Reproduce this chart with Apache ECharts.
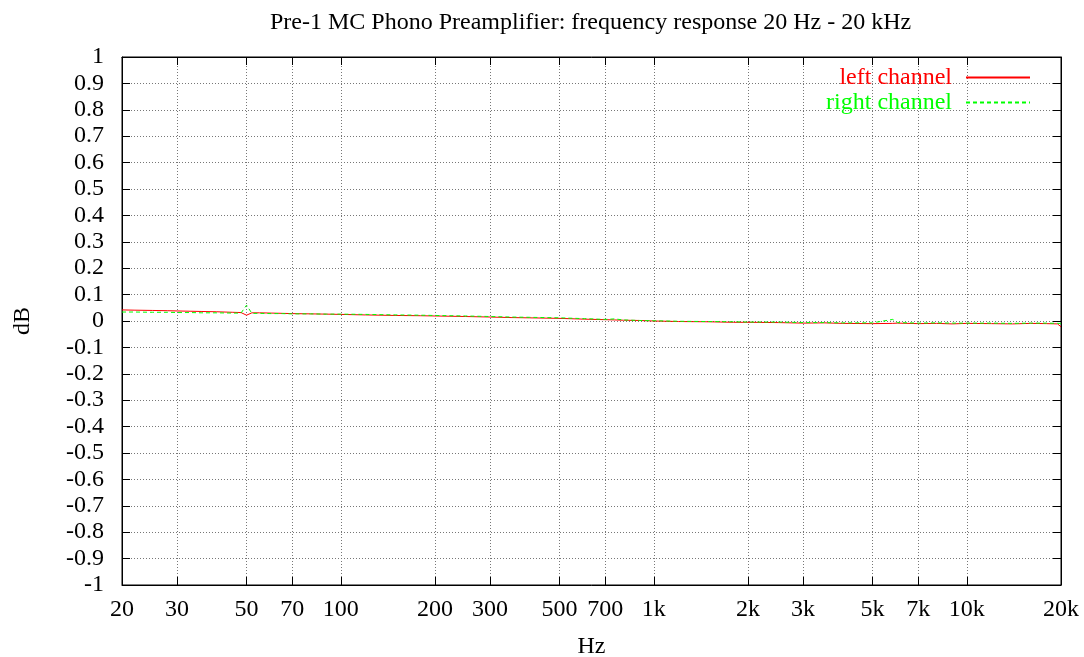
<!DOCTYPE html>
<html><head><meta charset="utf-8">
<script src="https://cdn.jsdelivr.net/npm/echarts@6/dist/echarts.min.js"></script>
<style>html,body{margin:0;padding:0;background:#fff}#c{width:1084px;height:657px}</style>
</head><body><div id="c"></div>
<script>
const freqs = [20,22,25,28,30,33,36,40,45,48,50,52,55,60,65,70,80,90,100,120,150,180,200,250,300,350,400,500,600,700,750,800,900,1000,1200,1500,1800,2000,2500,3000,3500,4000,5000,5800,6000,7000,8000,9000,10000,12000,14000,16000,18000,19500,20000];
const leftDb = [0.042,0.041,0.040,0.039,0.038,0.037,0.036,0.035,0.033,0.032,0.022,0.031,0.031,0.030,0.029,0.028,0.027,0.026,0.025,0.023,0.021,0.020,0.019,0.017,0.015,0.013,0.012,0.010,0.007,0.005,0.004,0.003,0.002,0.000,-0.002,-0.003,-0.005,-0.005,-0.006,-0.008,-0.007,-0.009,-0.010,-0.009,-0.008,-0.010,-0.009,-0.011,-0.009,-0.010,-0.011,-0.009,-0.010,-0.011,-0.022];
const rightDb = [0.034,0.034,0.033,0.033,0.032,0.032,0.031,0.031,0.030,0.030,0.060,0.029,0.029,0.028,0.028,0.027,0.027,0.026,0.026,0.025,0.023,0.022,0.021,0.019,0.017,0.015,0.014,0.012,0.009,0.006,0.008,0.004,0.002,0.001,-0.001,-0.002,-0.003,-0.004,-0.004,-0.006,-0.006,-0.007,-0.007,0.006,-0.006,-0.008,-0.007,-0.008,-0.008,-0.008,-0.009,-0.008,-0.008,-0.009,-0.009];
const xTicks = [20,30,50,70,100,200,300,500,700,1000,2000,3000,5000,7000,10000,20000];
const seriesNames = ['left channel','right channel'];
const titleText = 'Pre-1 MC Phono Preamplifier: frequency response 20 Hz - 20 kHz';

const FONT = 'Liberation Serif';
const FS = 24;
const gridLine = {show:true, lineStyle:{color:'#777', width:1, type:[1,2]}};
const fmtHz = v => v >= 1000 ? (v/1000) + 'k' : String(v);
const chart = echarts.init(document.getElementById('c'), null, {renderer:'canvas'});
chart.setOption({
  animation:false,
  backgroundColor:'#fff',
  title:{text:titleText, left:265, top:6, textStyle:{fontFamily:FONT, fontSize:FS, fontWeight:'normal', color:'#000'}},
  grid:{left:122, right:23, top:57, bottom:72, show:true, borderColor:'#000', borderWidth:1, containLabel:false, outerBoundsMode:'none'},
  legend:{
    orient:'vertical', right:48, top:60, align:'right', itemWidth:64, itemHeight:14, itemGap:0,
    itemStyle:{opacity:0},
    textStyle:{fontFamily:FONT, fontSize:FS, lineHeight:25, padding:[0,9,0,0]},
    data:[
      {name:seriesNames[0], textStyle:{color:'#ff0000'}},
      {name:seriesNames[1], textStyle:{color:'#00ff00'}}
    ]
  },
  xAxis:[{
    type:'log', logBase:10, min:20, max:20000,
    name:'Hz', nameLocation:'middle', nameGap:50,
    nameTextStyle:{fontFamily:FONT, fontSize:FS, color:'#000'},
    axisLine:{show:true, onZero:false, lineStyle:{color:'#000'}},
    axisTick:{show:true, inside:true, length:8, customValues:xTicks, lineStyle:{color:'#000'}},
    axisLabel:{customValues:xTicks, formatter:fmtHz, margin:13, fontFamily:FONT, fontSize:FS, color:'#000'},
    splitLine:gridLine, minorTick:{show:false}, minorSplitLine:{show:false}
  },{
    type:'log', logBase:10, min:20, max:20000, position:'top',
    axisLine:{show:true, onZero:false, lineStyle:{color:'#000'}},
    axisTick:{show:true, inside:true, length:8, customValues:xTicks, lineStyle:{color:'#000'}},
    axisLabel:{show:false}, splitLine:{show:false}
  }],
  yAxis:[{
    type:'value', min:-1, max:1, interval:0.1,
    name:'dB', nameLocation:'middle', nameGap:87,
    nameTextStyle:{fontFamily:FONT, fontSize:FS, color:'#000'},
    axisLine:{show:true, onZero:false, lineStyle:{color:'#000'}},
    axisTick:{show:true, inside:true, length:8, lineStyle:{color:'#000'}},
    axisLabel:{margin:18, fontFamily:FONT, fontSize:FS, color:'#000', formatter:v => String(Math.round(v*10)/10)},
    splitLine:gridLine
  },{
    type:'value', min:-1, max:1, interval:0.1, position:'right',
    axisLine:{show:true, onZero:false, lineStyle:{color:'#000'}},
    axisTick:{show:true, inside:true, length:8, lineStyle:{color:'#000'}},
    axisLabel:{show:false}, splitLine:{show:false}
  }],
  series:[
    {name:seriesNames[0], type:'line', symbol:'none', xAxisIndex:0, yAxisIndex:0,
     data:freqs.map((f,i)=>[f,leftDb[i]]), lineStyle:{color:'#ff0000', width:1}, itemStyle:{color:'#ff0000'}},
    {name:seriesNames[1], type:'line', symbol:'none', xAxisIndex:0, yAxisIndex:0,
     data:freqs.map((f,i)=>[f,rightDb[i]]), lineStyle:{color:'#00ff00', width:1, type:[4,3]}, itemStyle:{color:'#00ff00'}}
  ]
});
</script></body></html>
